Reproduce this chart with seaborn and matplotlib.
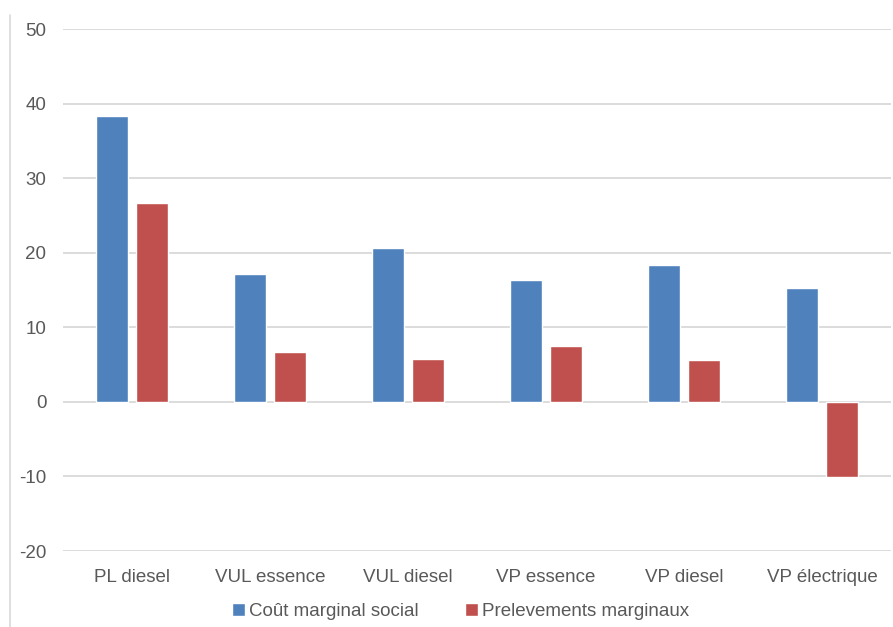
import pandas as pd
import matplotlib.pyplot as plt
import matplotlib.lines as mlines
import seaborn as sns

# valeurs
categories = ['PL diesel', 'VUL essence', 'VUL diesel', 'VP essence', 'VP diesel', 'VP électrique']
cout_marginal = [38.3, 17.2, 20.6, 16.4, 18.3, 15.3]
prelevements = [26.6, 6.7, 5.8, 7.5, 5.6, -10.1]
series = ['Coût marginal social', 'Prelevements marginaux']

df = pd.DataFrame({
    'categorie': categories * 2,
    'serie': [series[0]] * len(categories) + [series[1]] * len(categories),
    'valeur': cout_marginal + prelevements,
})

sns.set_style('white')
plt.rcParams['font.family'] = ['Liberation Sans', 'DejaVu Sans']
plt.rcParams['axes.unicode_minus'] = False
gris = '#595959'

fig = plt.figure(figsize=(8.93, 6.27), dpi=100)
ax = fig.add_axes([63 / 893, 1 - 551 / 627, 828 / 893, 522 / 627])

sns.barplot(data=df, x='categorie', y='valeur', hue='serie',
            palette=['#4F81BD', '#C0504D'], width=0.58, gap=0.22,
            saturation=1, ax=ax, zorder=3)

ax.set_ylim(-20, 50)
ax.set_yticks(range(-20, 51, 10))
ax.set_xlim(-0.5, len(categories) - 0.5)
ax.grid(axis='y', color='#D9D9D9', linewidth=1.3, zorder=0)
ax.set_axisbelow(True)
for s in ax.spines.values():
    s.set_visible(False)
ax.set_xlabel('')
ax.set_ylabel('')
ax.tick_params(axis='y', length=0, pad=12, labelsize=13.5, labelcolor=gris)
ax.tick_params(axis='x', length=0, pad=13, labelsize=13.5, labelcolor=gris)

sns.move_legend(ax, 'upper center', bbox_to_anchor=(0.48, -0.068), ncol=2,
                frameon=False, title=None, fontsize=13.5, labelcolor=gris,
                handlelength=0.7, handleheight=0.7, handletextpad=0.2,
                columnspacing=2.5)

# filet vertical à gauche
fig.add_artist(mlines.Line2D([10 / 893, 10 / 893], [0, 1 - 15 / 627],
                             color='#D9D9D9', linewidth=1.2))

plt.savefig('out.png', dpi=100)
